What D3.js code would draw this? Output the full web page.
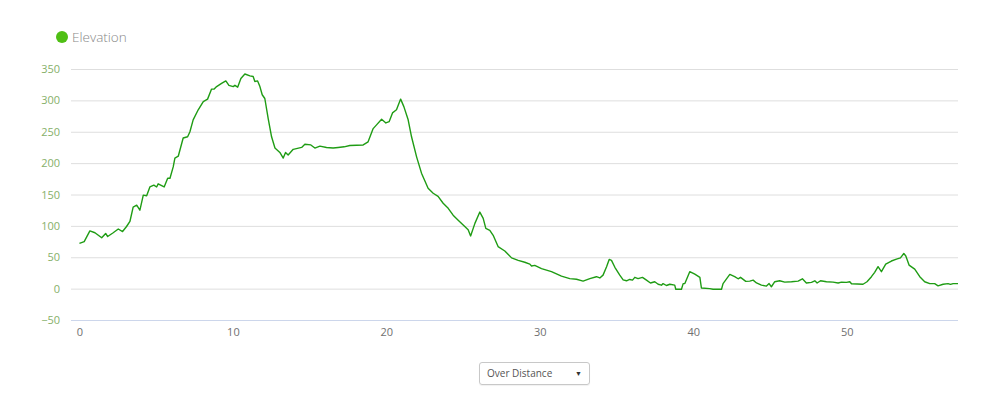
<!DOCTYPE html>
<html>
<head>
<meta charset="utf-8">
<script src="https://cdn.jsdelivr.net/npm/d3@7"></script>
<style>
  html, body { margin: 0; padding: 0; background: #fff; }
  body { width: 1000px; height: 404px; overflow: hidden; font-family: "Open Sans", "Noto Sans", sans-serif; position: relative; }
  .sel {
    position: absolute; left: 479px; top: 362px; width: 111px; height: 23px;
    border: 1px solid #c8c8c8; border-radius: 3px; box-sizing: border-box;
    font-size: 10px; color: #555; line-height: 21px; padding-left: 7px;
    box-shadow: 0 1px 1px rgba(0,0,0,0.06);
  }
  .sel span { position: absolute; right: 7px; top: 0; font-size: 7px; color: #333; }
</style>
</head>
<body>
<svg id="chart" width="1000" height="404"></svg>
<div class="sel">Over Distance<span>▼</span></div>
<script>
const seriesName = "Elevation";
const distanceKm = [0.0,0.31,0.68,1.01,1.45,1.71,1.84,2.20,2.53,2.81,3.07,3.29,3.50,3.73,3.94,4.16,4.38,4.59,4.85,5.03,5.13,5.52,5.75,5.90,6.11,6.22,6.44,6.76,7.05,7.20,7.41,7.74,8.07,8.35,8.61,8.78,
8.94,9.26,9.54,9.74,10.02,10.13,10.31,10.52,10.78,11.11,11.32,11.43,11.61,11.76,11.91,12.08,12.30,12.52,12.74,13.06,13.28,13.43,13.60,13.93,14.48,14.69,15.08,15.34,15.67,16.10,16.53,16.86,17.25,
17.62,18.49,18.81,19.14,19.36,19.69,19.97,20.18,20.40,20.66,20.93,21.14,21.42,21.64,21.97,22.29,22.72,23.05,23.37,23.70,24.03,24.35,24.68,25.11,25.33,25.49,25.77,26.09,26.31,26.48,26.74,26.96,27.28,27.72,28.16,28.59,29.02,29.35,29.46,29.67,30.11,30.76,31.41,31.95,32.39,32.82,33.26,33.69,33.91,34.12,34.35,34.52,34.67,34.89,35.21,35.43,35.65,35.86,36.04,36.19,36.40,36.69,36.95,37.21,37.49,37.71,37.93,38.03,38.25,38.47,38.79,38.86,39.23,39.34,39.45,39.77,40.10,40.43,40.53,41.07,41.29,41.84,41.94,42.38,42.70,42.92,43.08,43.42,43.68,43.90,44.12,44.44,44.77,44.94,45.09,45.31,45.63,45.96,46.40,46.83,47.11,47.37,47.70,47.92,48.07,48.29,48.68,49.11,49.44,49.66,49.98,50.20,50.31,51.06,51.32,51.61,51.82,52.04,52.15,52.26,52.54,52.91,53.24,53.50,53.72,53.85,54.06,54.43,54.76,55.08,55.41,55.73,55.95,56.28,56.60,56.76,56.93,57.25];
const elevationM = [72,75,92,89,81,88,83,89,95,91,99,107,130,133,125,149,148,162,165,162,167,162,176,176,194,208,211,240,242,250,269,285,298,302,318,318,
322,327,331,324,322,324,321,335,342,339,338,330,331,322,309,303,271,242,224,217,208,217,213,222,225,230,229,224,227,225,224,225,226,
228,229,234,255,261,270,264,266,280,285,302,290,269,242,210,184,160,152,147,136,128,117,109,99,94,84,104,122,112,96,93,85,67,60,49,45,42,39,36,37,32,27,20,16,15,12,16,19,17,21.5,35,46.5,45,34,21.5,14,12.5,14.6,13.5,18,16,18,13.5,9,11,7,5.5,8,5,7,5.5,-1,-1,8,8,27,23,18,1,0,-1,-1,8,22.6,19,15.7,18,11.5,12,13.5,9,5.5,4,8,3,11,12.5,10.4,11,12,15.7,9,10,12.5,9,12.5,11,10.4,9,10.4,10,11,7.7,7,11,19,26,35,31,27,39,44,47,49,56,52,37.5,31,19,11,8,8,4.5,7,8,6.7,8,8];
const yTicks = [-50,0,50,100,150,200,250,300,350];
const xTicks = [0,10,20,30,40,50];

const svg = d3.select("#chart");
const plotLeft = 71, plotRight = 958, plotTop = 69, plotBottom = 320;
const x = d3.scaleLinear().domain([-0.55, 57.25]).range([plotLeft, plotRight]);
const y = d3.scaleLinear().domain([-50, 350]).range([plotBottom, plotTop]);

// grid
const yAxis = d3.axisLeft(y).tickValues(yTicks).tickSize(-(plotRight - plotLeft)).tickPadding(11);
const gy = svg.append("g").attr("transform", `translate(${plotLeft},0)`).call(yAxis);
gy.select(".domain").remove();
gy.selectAll(".tick line").attr("stroke", "#dedede").attr("stroke-width", 1)
  .filter(d => d === -50).attr("stroke", "none");
gy.selectAll(".tick text").attr("fill", "#86b06a").style("font-size", "11px")
  .style("font-family", "'Open Sans', sans-serif");

// x axis
const xAxis = d3.axisBottom(x).tickValues(xTicks).tickSize(0).tickPadding(8);
const gx = svg.append("g").attr("transform", `translate(0,${plotBottom})`).call(xAxis);
gx.select(".domain").attr("stroke", "#ccd6eb").attr("d", `M${plotLeft},0.5H${plotRight}`);
gx.selectAll(".tick text").attr("fill", "#707070").style("font-size", "11px")
  .style("font-family", "'Open Sans', sans-serif");

// line
const pts = distanceKm.map((d, i) => [d, elevationM[i]]);
const line = d3.line().x(d => x(d[0])).y(d => y(d[1]));
svg.append("path").datum(pts).attr("d", line)
  .attr("fill", "none").attr("stroke", "#1f9c14").attr("stroke-width", 1.4)
  .attr("stroke-linejoin", "round");

// legend
const lg = svg.append("g");
lg.append("circle").attr("cx", 62).attr("cy", 37).attr("r", 6).attr("fill", "#4fbf14");
lg.append("text").attr("x", 72).attr("y", 42).text(seriesName)
  .attr("fill", "#888").style("font-size", "13.5px").style("font-weight", "300")
  .style("font-family", "'Open Sans', sans-serif");
</script>
</body>
</html>
